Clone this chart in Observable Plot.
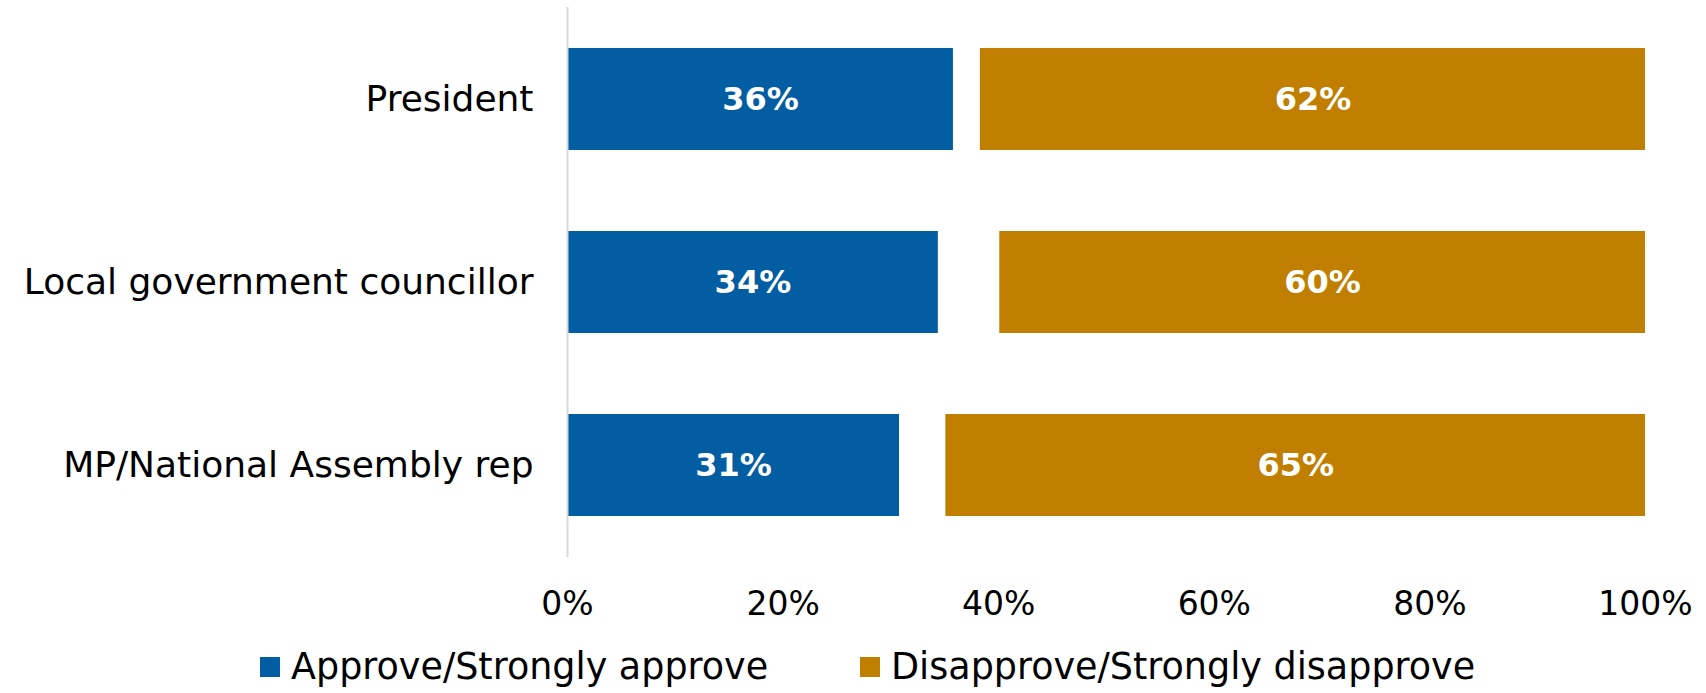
<!DOCTYPE html>
<html>
<head>
<meta charset="utf-8">
<script src="https://cdn.jsdelivr.net/npm/d3@7"></script>
<script src="https://cdn.jsdelivr.net/npm/@observablehq/plot@0.6"></script>
<style>
  html, body { margin: 0; padding: 0; background: #fff; }
  body { width: 1706px; height: 693px; overflow: hidden; font-family: "DejaVu Sans", sans-serif; }
  #legend { position: relative; height: 53px; font-size: 36.5px; color: #000; }
  .item { position: absolute; top: 0; height: 53px; display: flex; align-items: center; }
  .sw { width: 20px; height: 20px; margin-right: 11px; }
</style>
</head>
<body>
<div id="chart"></div>
<div id="legend"></div>
<script>
const categories = ["President", "Local government councillor", "MP/National Assembly rep"];
// bar lengths; labels show the rounded values
const approve = [35.8, 34.4, 30.8];
const disapprove = [61.7, 59.9, 64.9];
const seriesNames = ["Approve/Strongly approve", "Disapprove/Strongly disapprove"];
const seriesColors = ["#035da2", "#c07f00"];
const xTicks = [0, 20, 40, 60, 80, 100];

const rows = [];
categories.forEach((c, i) => {
  rows.push({cat: c, series: seriesNames[0], x1: 0, x2: approve[i], v: approve[i]});
  rows.push({cat: c, series: seriesNames[1], x1: 100 - disapprove[i], x2: 100, v: disapprove[i]});
});

const plot = Plot.plot({
  width: 1706,
  height: 640,
  marginLeft: 567,
  marginRight: 61,
  marginTop: 7,
  marginBottom: 83,
  style: {fontFamily: "DejaVu Sans, sans-serif", background: "#fff", color: "#000"},
  x: {domain: [0, 100], ticks: xTicks, tickFormat: d => d + "%", label: null},
  y: {domain: categories, paddingInner: 0.443, paddingOuter: 0.22, label: null},
  color: {domain: seriesNames, range: seriesColors},
  marks: [
    Plot.barX(rows, {y: "cat", x1: "x1", x2: "x2", fill: "series"}),
    Plot.ruleX([0], {stroke: "#d9d9d9", strokeWidth: 2}),
    Plot.text(rows, {y: "cat", x: d => (d.x1 + d.x2) / 2, text: d => Math.round(d.v) + "%", fill: "#fff", fontWeight: "bold", fontSize: 32}),
    Plot.axisX({ticks: xTicks, tickFormat: d => d + "%", tickSize: 0, tickPadding: 34, fontSize: 33, label: null}),
    Plot.axisY({tickSize: 0, tickPadding: 34, fontSize: 36, label: null})
  ]
});
document.getElementById("chart").appendChild(plot);

const legend = document.getElementById("legend");
const lefts = [260, 860];
seriesNames.forEach((s, i) => {
  const it = document.createElement("div");
  it.className = "item";
  it.style.left = lefts[i] + "px";
  const sw = document.createElement("div");
  sw.className = "sw";
  sw.style.background = seriesColors[i];
  const t = document.createElement("span");
  t.textContent = s;
  it.appendChild(sw); it.appendChild(t);
  legend.appendChild(it);
});
</script>
</body>
</html>
